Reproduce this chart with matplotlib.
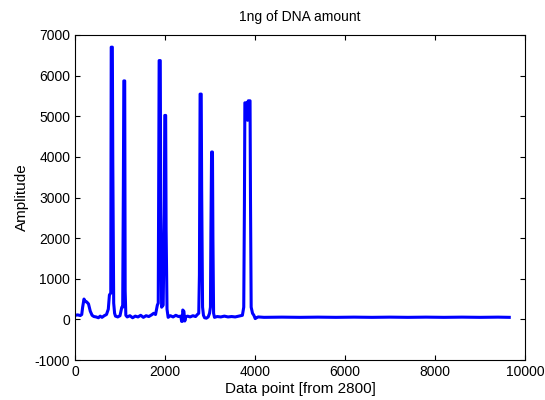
import matplotlib
matplotlib.use("Agg")
import matplotlib.pyplot as plt

plt.rcParams.update({
    "font.family": ["Liberation Sans", "DejaVu Sans"],
    "font.size": 10,
    "axes.unicode_minus": False,
    "xtick.direction": "in",
    "ytick.direction": "in",
    "xtick.top": True,
    "ytick.right": True,
})

# trace: (data point, amplitude)
trace = [
    (0, 100), (60, 110), (120, 95), (150, 120), (170, 300), (200, 500), (230, 440),
    (260, 430), (300, 380), (340, 200), (380, 100), (420, 70), (470, 60), (520, 40),
    (560, 80), (600, 50), (650, 90), (700, 120),
    # peaks near 800 and 1090
    (740, 250), (765, 600), (795, 650), (805, 6700), (830, 6700), (840, 3900),
    (860, 400), (880, 150), (900, 80), (950, 60), (1000, 90), (1040, 300), (1060, 300),
    (1075, 3300), (1085, 5870), (1105, 5870), (1115, 700), (1130, 100),
    (1160, 60), (1220, 90), (1280, 40), (1340, 80), (1400, 60), (1460, 100), (1520, 50),
    (1580, 90), (1640, 70), (1700, 110), (1750, 150), (1790, 120), (1830, 350), (1850, 400),
    # pair near 1900 / 2000
    (1860, 3250), (1870, 6370), (1895, 6370), (1905, 3000), (1925, 300), (1960, 350),
    (1985, 2600), (1995, 5020), (2015, 5020), (2025, 2200), (2045, 250), (2070, 50),
    (2120, 90), (2180, 60), (2240, 100), (2300, 70), (2350, 80), (2370, -50), (2385, -50),
    (2395, 230), (2420, 200), (2440, -40), (2460, 60), (2500, 80), (2560, 60), (2620, 90),
    (2680, 70), (2720, 120), (2750, 150), (2765, 1100),
    # pair near 2800 / 3040
    (2780, 5545), (2805, 5545), (2815, 3200), (2835, 300), (2855, 100), (2880, 40),
    (2920, 30), (2960, 60), (2990, 150), (3010, 300), (3020, 2150), (3035, 4120),
    (3055, 4120), (3065, 2000), (3080, 150), (3100, 50), (3160, 70), (3240, 60), (3320, 80),
    (3400, 60), (3480, 70), (3560, 60), (3640, 80), (3720, 100), (3750, 300),
    # double peak near 3800
    (3765, 2820), (3775, 5330), (3820, 5330), (3835, 4900), (3850, 5380), (3890, 5380),
    (3900, 2940), (3915, 300), (3945, 150), (3975, 100), (4005, 20), (4035, 40),
    (4070, 60), (4200, 50), (4600, 55), (5000, 50), (5400, 55), (5800, 50), (6200, 55),
    (6600, 50), (7000, 55), (7400, 50), (7800, 55), (8200, 50), (8600, 55), (9000, 50),
    (9400, 55), (9650, 50),
]
trace_x = [p[0] for p in trace]
trace_y = [p[1] for p in trace]

fig = plt.figure(figsize=(5.45, 4.0), dpi=100)
ax = fig.add_axes([0.1376, 0.1, 0.8257, 0.8125])
ax.plot(trace_x, trace_y, color="#0000ff", lw=2.2)
ax.set_xlim(0, 10000)
ax.set_ylim(-1000, 7000)
ax.set_xticks(range(0, 10001, 2000))
ax.set_yticks(range(-1000, 7001, 1000))
ax.set_xlabel("Data point [from 2800]", fontsize=11, labelpad=2)
ax.set_ylabel("Amplitude", fontsize=11)
ax.set_title("1ng of DNA amount", fontsize=10, pad=10)
fig.savefig("out.png")
